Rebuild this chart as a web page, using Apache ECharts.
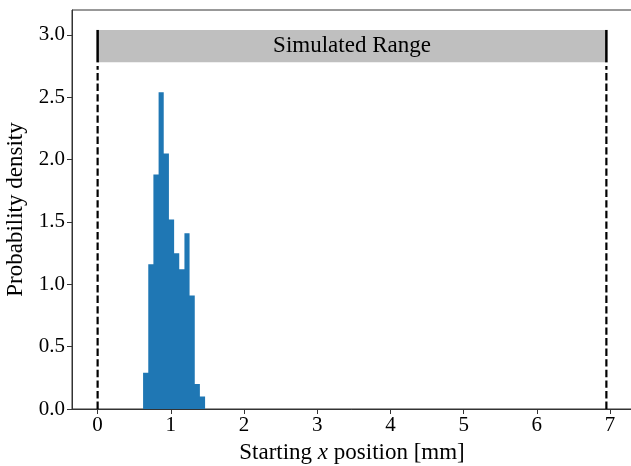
<!DOCTYPE html>
<html>
<head>
<meta charset="utf-8">
<script src="https://cdn.jsdelivr.net/npm/echarts@6/dist/echarts.min.js"></script>
<style>html,body{margin:0;padding:0;background:#fff}#c{width:631px;height:466px}</style>
</head>
<body>
<div id="c"></div>
<script>
// Histogram bin edges (mm) and probability densities
const binEdges = [0.621, 0.692, 0.762, 0.833, 0.903, 0.974, 1.045, 1.115, 1.186, 1.256, 1.327, 1.397, 1.468];
const densities = [0.29, 1.16, 1.88, 2.54, 2.05, 1.52, 1.25, 1.12, 1.41, 0.91, 0.20, 0.10];
// Simulated range
const rangeStart = 0;
const rangeEnd = 6.95;
const bandBottom = 2.78;
const bandTop = 3.04;
const bandLabel = 'Simulated Range';
// Ticks
const xTicks = [0, 1, 2, 3, 4, 5, 6, 7];
const yTicks = [0, 0.5, 1.0, 1.5, 2.0, 2.5, 3.0];

// Step outline of the histogram: each bin starts at its left edge; closes at the last edge
const histStep = densities.map((d, i) => [binEdges[i], d]);
histStep.push([binEdges[binEdges.length - 1], 0]);

const font = 'Liberation Serif';
const chart = echarts.init(document.getElementById('c'), null, {renderer: 'canvas'});
chart.setOption({
  animation: false,
  grid: {left: 72, right: -1, top: 10, bottom: 57, outerBoundsMode: 'none', containLabel: false, show: true, borderColor: '#333', borderWidth: 1, backgroundColor: 'transparent'},
  xAxis: {
    type: 'value', min: -0.35, max: 7.3,
    name: '{a|Starting }{i|x}{a| position [mm]}',
    nameLocation: 'middle', nameGap: 32,
    nameTextStyle: {rich: {a: {fontFamily: font, fontSize: 23, color: '#000'}, i: {fontFamily: font, fontSize: 23, fontStyle: 'italic', color: '#000'}}},
    splitLine: {show: false},
    axisLine: {show: true, onZero: false, lineStyle: {color: '#333', width: 1}},
    axisTick: {show: true, length: 5, customValues: xTicks, lineStyle: {color: '#333'}},
    axisLabel: {customValues: xTicks, fontFamily: font, fontSize: 21, color: '#000', margin: 6, formatter: v => String(v)}
  },
  yAxis: {
    type: 'value', min: 0, max: 3.2,
    name: 'Probability density', nameLocation: 'middle', nameGap: 41,
    nameTextStyle: {fontFamily: font, fontSize: 23, color: '#000'},
    splitLine: {show: false},
    axisLine: {show: true, onZero: false, lineStyle: {color: '#333', width: 1}},
    axisTick: {show: true, length: 5, customValues: yTicks, lineStyle: {color: '#333'}},
    axisLabel: {customValues: yTicks, fontFamily: font, fontSize: 21, color: '#000', margin: 7, formatter: v => v.toFixed(1)}
  },
  series: [
    {
      type: 'line', step: 'end', data: histStep, symbol: 'none', z: 2,
      lineStyle: {width: 0, color: '#1f77b4'},
      areaStyle: {color: '#1f77b4', opacity: 1, origin: 'start'}
    },
    {
      type: 'custom',
      data: [[rangeStart, rangeEnd, bandBottom, bandTop]],
      z: 3,
      renderItem: function (params, api) {
        const p0 = api.coord([api.value(0), api.value(3)]);
        const p1 = api.coord([api.value(1), api.value(2)]);
        return {
          type: 'group',
          children: [
            {type: 'rect', shape: {x: p0[0], y: p0[1], width: p1[0] - p0[0], height: p1[1] - p0[1]}, style: {fill: '#bfbfbf'}},
            {type: 'text', x: (p0[0] + p1[0]) / 2, y: (p0[1] + p1[1]) / 2, style: {text: bandLabel, fontFamily: font, fontSize: 23, fill: '#000', align: 'center', verticalAlign: 'middle'}},
            {type: 'line', shape: {x1: p0[0], y1: p0[1], x2: p0[0], y2: p1[1]}, style: {stroke: '#000', lineWidth: 2.5}},
            {type: 'line', shape: {x1: p1[0], y1: p0[1], x2: p1[0], y2: p1[1]}, style: {stroke: '#000', lineWidth: 2.5}}
          ]
        };
      }
    },
    {
      type: 'line', data: [[rangeStart, 0], [rangeStart, bandBottom - 0.03]], symbol: 'none', z: 4,
      lineStyle: {color: '#000', width: 2.2, type: [7.4, 3.2]}
    },
    {
      type: 'line', data: [[rangeEnd, 0], [rangeEnd, bandBottom - 0.03]], symbol: 'none', z: 4,
      lineStyle: {color: '#000', width: 2.2, type: [7.4, 3.2]}
    }
  ]
});
</script>
</body>
</html>
